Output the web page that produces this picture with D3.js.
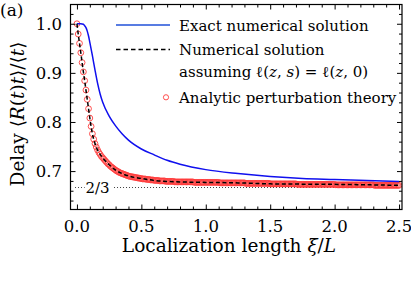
<!DOCTYPE html>
<html><head><meta charset="utf-8">
<script src="https://cdn.jsdelivr.net/npm/d3@7"></script>
<style>
html,body{margin:0;padding:0;background:#fff;}
svg{display:block;}
</style></head>
<body>
<svg id="chart" width="411" height="285" font-family="'DejaVu Serif', 'Liberation Serif', serif"></svg>
<script>
// ---- data ----
const xTicks = [0.0, 0.5, 1.0, 1.5, 2.0, 2.5];
const xTickLabels = ["0.0", "0.5", "1.0", "1.5", "2.0", "2.5"];
const yTicks = [0.7, 0.8, 0.9, 1.0];
const yTickLabels = ["0.7", "0.8", "0.9", "1.0"];
const asymptote = 2 / 3;

// Exact numerical solution (blue)
const exactX = [0.00, 0.03, 0.05, 0.06, 0.07, 0.08, 0.09, 0.10, 0.12, 0.14, 0.16, 0.18, 0.20, 0.25, 0.30, 0.35, 0.40, 0.50, 0.60, 0.70, 0.80, 1.00, 1.25, 1.50, 1.75, 2.00, 2.25, 2.50];
const exactY = [1.000, 1.000, 0.999, 0.996, 0.992, 0.985, 0.975, 0.962, 0.935, 0.906, 0.879, 0.857, 0.840, 0.812, 0.792, 0.776, 0.763, 0.745, 0.733, 0.722, 0.714, 0.703, 0.695, 0.689, 0.685, 0.683, 0.681, 0.679];

// Numerical solution assuming l(z,s)=l(z,0) (black dashed)
const approxX = [0.00, 0.01, 0.02, 0.03, 0.04, 0.05, 0.06, 0.07, 0.08, 0.09, 0.10, 0.12, 0.14, 0.16, 0.18, 0.20, 0.25, 0.30, 0.35, 0.40, 0.50, 0.60, 0.70, 0.80, 1.00, 1.25, 1.50, 2.00, 2.50];
const approxY = [1.000, 0.979, 0.960, 0.941, 0.921, 0.902, 0.884, 0.865, 0.846, 0.827, 0.808, 0.776, 0.756, 0.743, 0.734, 0.727, 0.713, 0.702, 0.695, 0.690, 0.685, 0.681, 0.679, 0.678, 0.677, 0.676, 0.674, 0.673, 0.671];

// Analytic perturbation theory (red circles), sampled every 0.01 in xi/L from 0 to 2.5
const pertStep = 0.01;
const pertY = [
  1.000,
  0.979,0.960,0.941,0.921,0.902,0.884,0.865,0.846,0.827,0.808,
  0.791,0.776,0.765,0.756,0.749,0.743,0.738,0.734,0.730,0.727,
  0.724,0.721,0.718,0.715,0.713,0.710,0.708,0.706,0.704,0.702,
  0.700,0.699,0.697,0.696,0.695,0.694,0.693,0.692,0.691,0.690,
  0.689,0.689,0.688,0.688,0.687,0.687,0.686,0.686,0.685,0.685,
  0.684,0.684,0.684,0.683,0.683,0.683,0.682,0.682,0.682,0.681,
  0.681,0.681,0.681,0.680,0.680,0.680,0.680,0.680,0.679,0.679,
  0.679,0.679,0.679,0.679,0.679,0.678,0.678,0.678,0.678,0.678,
  0.678,0.678,0.678,0.678,0.678,0.678,0.678,0.678,0.678,0.678,
  0.677,0.677,0.677,0.677,0.677,0.677,0.677,0.677,0.677,0.677,
  0.677,0.677,0.677,0.677,0.677,0.677,0.677,0.677,0.677,0.677,
  0.676,0.676,0.676,0.676,0.676,0.676,0.676,0.676,0.676,0.676,
  0.676,0.676,0.676,0.676,0.676,0.676,0.676,0.676,0.676,0.676,
  0.675,0.675,0.675,0.675,0.675,0.675,0.675,0.675,0.675,0.675,
  0.675,0.675,0.675,0.675,0.675,0.675,0.675,0.675,0.675,0.674,
  0.674,0.674,0.674,0.674,0.674,0.674,0.674,0.674,0.674,0.674,
  0.674,0.674,0.674,0.674,0.674,0.674,0.674,0.674,0.674,0.674,
  0.673,0.673,0.673,0.673,0.673,0.673,0.673,0.673,0.673,0.673,
  0.673,0.673,0.673,0.673,0.673,0.673,0.673,0.673,0.673,0.673,
  0.673,0.673,0.673,0.673,0.673,0.673,0.673,0.673,0.673,0.673,
  0.672,0.672,0.672,0.672,0.672,0.672,0.672,0.672,0.672,0.672,
  0.672,0.672,0.672,0.672,0.672,0.672,0.672,0.672,0.672,0.672,
  0.672,0.672,0.672,0.672,0.672,0.672,0.672,0.672,0.672,0.672,
  0.671,0.671,0.671,0.671,0.671,0.671,0.671,0.671,0.671,0.671,
  0.671,0.671,0.671,0.671,0.671,0.671,0.671,0.671,0.671,0.671
];

// ---- layout ----
const L = 70.5, R = 402, T = 4.5, B = 209.5;
const svg = d3.select("#chart");

const x = d3.scaleLinear().domain([-0.050, 2.523]).range([L, R]);
const y = d3.scaleLinear().domain([0.6218, 1.0392]).range([B, T]);

const xMinor = d3.range(0, 2.51, 0.1).map(v => +v.toFixed(2)).filter(v => !xTicks.some(t => Math.abs(t - v) < 1e-6));
const yMinor = d3.range(0.64, 1.031, 0.02).map(v => +v.toFixed(2)).filter(v => !yTicks.some(t => Math.abs(t - v) < 1e-6));

const clipId = "plotclip";
svg.append("defs").append("clipPath").attr("id", clipId)
  .append("rect").attr("x", L).attr("y", T).attr("width", R - L).attr("height", B - T);

// asymptote 2/3 dotted line
svg.append("line")
  .attr("x1", x(-0.015)).attr("x2", x(2.5))
  .attr("y1", y(asymptote)).attr("y2", y(asymptote))
  .attr("stroke", "#444").attr("stroke-width", 1.1)
  .attr("stroke-dasharray", "1,2");
svg.append("rect")
  .attr("x", x(0.06)).attr("y", y(asymptote) - 8)
  .attr("width", 28).attr("height", 16).attr("fill", "#fff");
svg.append("text")
  .attr("x", x(0.16)).attr("y", y(asymptote))
  .attr("dy", "0.35em").attr("text-anchor", "middle")
  .attr("font-size", 15).text("2/3");

const g = svg.append("g").attr("clip-path", `url(#${clipId})`);

// red circles
g.append("g").selectAll("circle")
  .data(pertY)
  .join("circle")
  .attr("cx", (d, i) => x(i * pertStep))
  .attr("cy", d => y(d))
  .attr("r", 2.9)
  .attr("fill", "none")
  .attr("stroke", "#ff3b3b")
  .attr("stroke-width", 0.9);

// blue exact line
const lineGen = d3.line().x(d => x(d[0])).y(d => y(d[1])).curve(d3.curveMonotoneX);
g.append("path")
  .datum(exactX.map((v, i) => [v, exactY[i]]))
  .attr("d", lineGen)
  .attr("fill", "none").attr("stroke", "#1010ee").attr("stroke-width", 1.5);

// black dashed line
g.append("path")
  .datum(approxX.map((v, i) => [v, approxY[i]]))
  .attr("d", lineGen)
  .attr("fill", "none").attr("stroke", "#000").attr("stroke-width", 1.5)
  .attr("stroke-dasharray", "4,2.6");

// frame
svg.append("rect").attr("x", L).attr("y", T).attr("width", R - L).attr("height", B - T)
  .attr("fill", "none").attr("stroke", "#000").attr("stroke-width", 1.2);

// ticks
function tickAxis(axisFn, scale, vals, size, transform) {
  const a = axisFn(scale).tickValues(vals).tickSize(size).tickFormat("");
  const gg = svg.append("g").attr("transform", transform).call(a);
  gg.attr("font-family", null);
  gg.select(".domain").remove();
  gg.selectAll("line").attr("stroke", "#000").attr("stroke-width", 1);
  return gg;
}
tickAxis(d3.axisBottom, x, xTicks, -5, `translate(0,${B})`);
tickAxis(d3.axisBottom, x, xMinor, -3, `translate(0,${B})`);
tickAxis(d3.axisTop, x, xTicks, -5, `translate(0,${T})`);
tickAxis(d3.axisTop, x, xMinor, -3, `translate(0,${T})`);
tickAxis(d3.axisLeft, y, yTicks, -5, `translate(${L},0)`);
tickAxis(d3.axisLeft, y, yMinor, -3, `translate(${L},0)`);
tickAxis(d3.axisRight, y, yTicks, -5, `translate(${R},0)`);
tickAxis(d3.axisRight, y, yMinor, -3, `translate(${R},0)`);

// tick labels
svg.append("g").selectAll("text").data(xTicks).join("text")
  .attr("x", d => x(d)).attr("y", 232)
  .attr("text-anchor", "middle").attr("font-size", 16.5)
  .text((d, i) => xTickLabels[i]);
svg.append("g").selectAll("text").data(yTicks).join("text")
  .attr("x", 62).attr("y", d => y(d)).attr("dy", "0.35em")
  .attr("text-anchor", "end").attr("font-size", 16.5)
  .text((d, i) => yTickLabels[i]);

// axis titles
const xt = svg.append("text").attr("x", 229).attr("y", 251.5)
  .attr("text-anchor", "middle").attr("font-size", 18.5);
xt.append("tspan").text("Localization length ");
xt.append("tspan").attr("font-style", "italic").text("ξ");
xt.append("tspan").text("/");
xt.append("tspan").attr("font-style", "italic").text("L");

const yt = svg.append("text")
  .attr("transform", "translate(24,114) rotate(-90)")
  .attr("text-anchor", "middle").attr("font-size", 18.5);
yt.append("tspan").text("Delay ⟨");
yt.append("tspan").attr("font-style", "italic").text("R");
yt.append("tspan").text("(");
yt.append("tspan").attr("font-style", "italic").text("t");
yt.append("tspan").text(")");
yt.append("tspan").attr("font-style", "italic").text("t");
yt.append("tspan").text("⟩/⟨");
yt.append("tspan").attr("font-style", "italic").text("t");
yt.append("tspan").text("⟩");

svg.append("text").attr("x", 0).attr("y", 16).attr("font-size", 17).text("(a)");

// legend
const lg = svg.append("g");
lg.append("line").attr("x1", 116).attr("x2", 170).attr("y1", 25).attr("y2", 25)
  .attr("stroke", "#2050d8").attr("stroke-width", 1.5);
lg.append("text").attr("x", 179).attr("y", 30.5).attr("font-size", 15).text("Exact numerical solution");
lg.append("line").attr("x1", 116).attr("x2", 170).attr("y1", 49.5).attr("y2", 49.5)
  .attr("stroke", "#000").attr("stroke-width", 1.5).attr("stroke-dasharray", "4.5,3");
lg.append("text").attr("x", 179).attr("y", 55).attr("font-size", 15).text("Numerical solution");
const t2 = lg.append("text").attr("x", 179).attr("y", 77).attr("font-size", 15);
t2.append("tspan").text("assuming ℓ(");
t2.append("tspan").attr("font-style", "italic").text("z");
t2.append("tspan").text(", ");
t2.append("tspan").attr("font-style", "italic").text("s");
t2.append("tspan").text(") = ℓ(");
t2.append("tspan").attr("font-style", "italic").text("z");
t2.append("tspan").text(", 0)");
lg.append("circle").attr("cx", 166).attr("cy", 97.3).attr("r", 2.6)
  .attr("fill", "none").attr("stroke", "#ff3b3b").attr("stroke-width", 0.9);
lg.append("text").attr("x", 179).attr("y", 102.5).attr("font-size", 15).text("Analytic perturbation theory");
</script>
</body></html>
